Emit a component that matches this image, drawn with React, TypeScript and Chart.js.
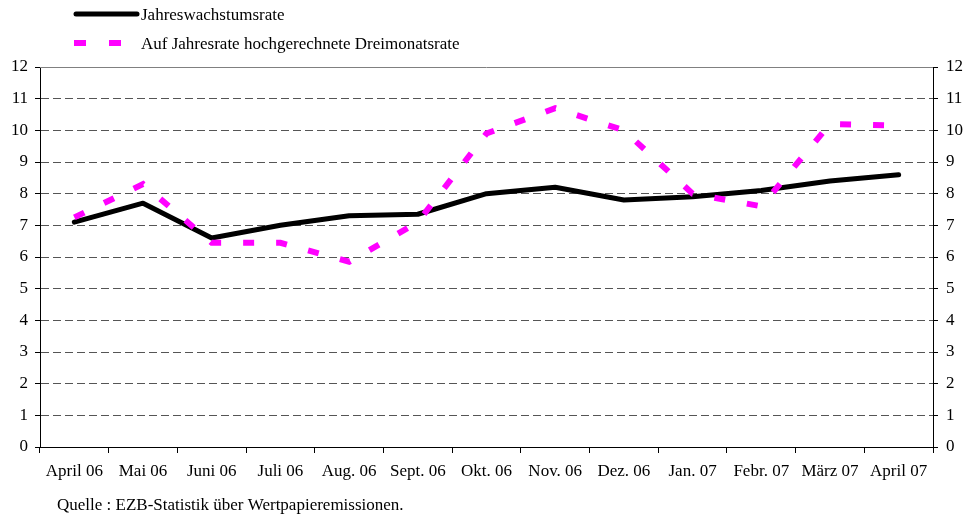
import React, { useEffect, useRef } from "react";
import { Chart, registerables } from "chart.js";

Chart.register(...registerables);

const categories = [
  "April 06", "Mai 06", "Juni 06", "Juli 06", "Aug. 06", "Sept. 06", "Okt. 06",
  "Nov. 06", "Dez. 06", "Jan. 07", "Febr. 07", "März 07", "April 07",
];
const annualGrowth = [7.1, 7.7, 6.6, 7.0, 7.3, 7.35, 8.0, 8.2, 7.8, 7.9, 8.1, 8.4, 8.6];
const threeMonthAnnualised = [7.25, 8.3, 6.45, 6.45, 5.85, 7.1, 9.9, 10.7, 10.0, 8.0, 7.6, 10.2, 10.15];
const seriesNames = ["Jahreswachstumsrate", "Auf Jahresrate hochgerechnete Dreimonatsrate"];
const sourceNote = "Quelle : EZB-Statistik über Wertpapieremissionen.";
const yMin = 0;
const yMax = 12;

const FONT = "'Liberation Serif', 'Times New Roman', serif";
const MAGENTA = "#FF00FF";

const decorPlugin = {
  id: "decor",
  afterDraw(chart: any) {
    const { ctx, chartArea } = chart;
    ctx.save();
    // solid top border
    ctx.strokeStyle = "#808080";
    ctx.lineWidth = 1;
    ctx.beginPath();
    ctx.moveTo(chartArea.left, chartArea.top + 0.5);
    ctx.lineTo(chartArea.right, chartArea.top + 0.5);
    ctx.stroke();
    // legend
    ctx.lineCap = "round";
    ctx.strokeStyle = "#000";
    ctx.lineWidth = 5;
    ctx.beginPath();
    ctx.moveTo(76, 14);
    ctx.lineTo(137, 14);
    ctx.stroke();
    ctx.lineCap = "butt";
    ctx.fillStyle = MAGENTA;
    ctx.fillRect(74, 40, 12, 6);
    ctx.fillRect(109, 40, 12, 6);
    ctx.fillStyle = "#000";
    ctx.font = `17px ${FONT}`;
    ctx.textBaseline = "middle";
    ctx.textAlign = "left";
    ctx.fillText(seriesNames[0], 141, 16);
    ctx.fillText(seriesNames[1], 141, 45);
    ctx.fillText(sourceNote, 57, 506);
    ctx.restore();
  },
};

export default function App() {
  const ref = useRef<HTMLCanvasElement>(null);
  useEffect(() => {
    document.body.style.margin = "0";
    const canvas = ref.current!;
    const chart = new Chart(canvas, {
      type: "line",
      data: {
        labels: categories,
        datasets: [
          {
            label: seriesNames[1],
            data: threeMonthAnnualised,
            borderColor: MAGENTA,
            borderWidth: 6,
            borderDash: [11, 22],
            borderCapStyle: "butt",
            pointRadius: 0,
            tension: 0,
            fill: false,
          },
          {
            label: seriesNames[0],
            data: annualGrowth,
            borderColor: "#000",
            borderWidth: 5,
            borderJoinStyle: "round",
            borderCapStyle: "round",
            pointRadius: 0,
            tension: 0,
            fill: false,
          },
        ],
      },
      options: {
        responsive: false,
        animation: false,
        layout: { padding: { top: 67, left: 0, right: 0, bottom: 0 } },
        plugins: { legend: { display: false }, tooltip: { enabled: false } },
        scales: {
          x: {
            type: "category",
            offset: true,
            grid: {
              offset: true,
              drawOnChartArea: false,
              drawTicks: true,
              tickLength: 6,
              tickColor: "#000",
              tickWidth: 1,
            },
            border: { display: true, color: "#000", width: 1 },
            ticks: {
              color: "#000",
              font: { family: FONT, size: 17 },
              padding: 8,
              maxRotation: 0,
              autoSkip: false,
            },
            afterFit(scale: any) {
              scale.height = 72;
            },
          },
          y: {
            position: "left",
            min: yMin,
            max: yMax,
            grid: {
              color: (c: any) =>
                c.tick && (c.tick.value === yMin || c.tick.value === yMax) ? "rgba(0,0,0,0)" : "#555",
              lineWidth: 1,
              drawTicks: true,
              tickLength: 5,
              tickColor: "#000",
              tickBorderDash: [],
            },
            border: { display: true, color: "#000", width: 1, dash: [8, 4] },
            ticks: {
              stepSize: 1,
              color: "#000",
              font: { family: FONT, size: 17 },
              padding: 7,
            },
            afterFit(scale: any) {
              scale.width = 40;
            },
          },
          y2: {
            position: "right",
            min: yMin,
            max: yMax,
            grid: {
              drawOnChartArea: false,
              drawTicks: true,
              tickLength: 5,
              tickColor: "#000",
            },
            border: { display: true, color: "#000", width: 1 },
            ticks: {
              stepSize: 1,
              color: "#000",
              font: { family: FONT, size: 17 },
              padding: 8,
            },
            afterFit(scale: any) {
              scale.width = 33;
            },
          },
        },
      },
      plugins: [decorPlugin],
    });
    return () => chart.destroy();
  }, []);
  return <canvas ref={ref} width={966} height={519} style={{ display: "block", width: 966, height: 519 }} />;
}
